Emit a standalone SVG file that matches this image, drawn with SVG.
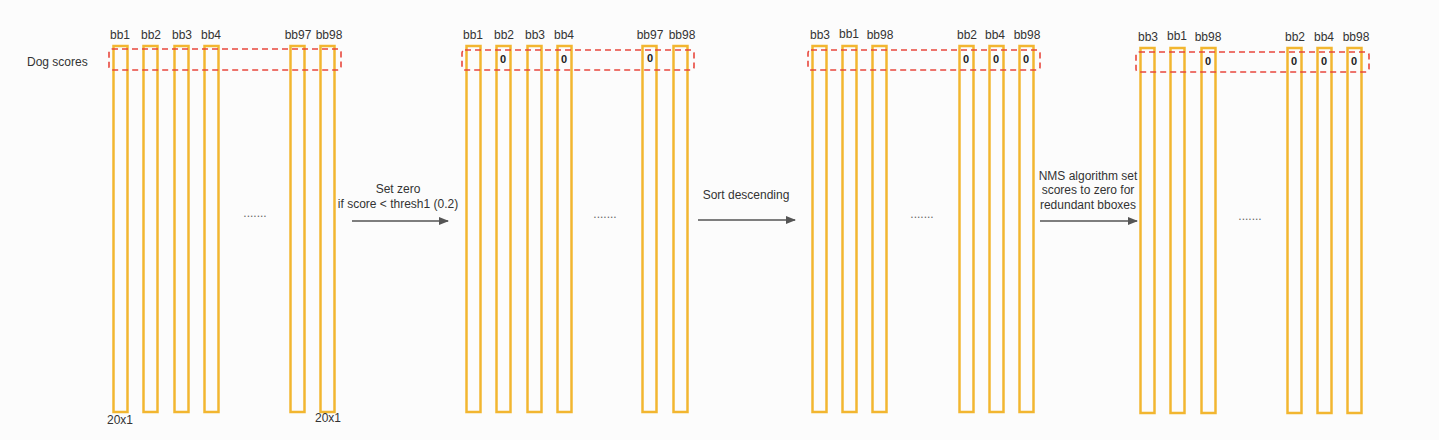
<svg xmlns="http://www.w3.org/2000/svg" width="1439" height="440" viewBox="0 0 1439 440">
<defs>
<style>
.bar{fill:none;stroke:#f2b630;stroke-width:2.5}
.sel{fill:none;stroke:#e8473c;stroke-width:1.6;stroke-dasharray:6,4}
.lbl{font-family:"Liberation Sans",Arial,sans-serif;font-size:12px;fill:#333;text-anchor:middle}
.zero{font-family:"Liberation Sans",Arial,sans-serif;font-size:11px;font-weight:bold;fill:#222;text-anchor:middle}
.txt{font-family:"Liberation Sans",Arial,sans-serif;font-size:12px;fill:#333}
.dots{font-family:"Liberation Sans",Arial,sans-serif;font-size:12px;fill:#666;text-anchor:middle}
.arr{stroke:#555;stroke-width:1.3;fill:none}
</style>
<marker id="ah" markerWidth="10" markerHeight="8" refX="9" refY="4" orient="auto" markerUnits="userSpaceOnUse">
<path d="M0,0 L10,4 L0,8 Z" fill="#555"/>
</marker>
</defs>
<rect width="1439" height="440" fill="#fcfcfc"/>
<text class="txt" x="27" y="66">Dog scores</text>

<g id="panel1">
<rect class="bar" x="113.5" y="46" width="14" height="366"/>
<rect class="bar" x="143.5" y="46" width="14" height="366"/>
<rect class="bar" x="174.5" y="46" width="14" height="366"/>
<rect class="bar" x="204.5" y="46" width="14" height="366"/>
<rect class="bar" x="290.5" y="46" width="14" height="366"/>
<rect class="bar" x="320.5" y="46" width="14" height="366"/>
<rect class="sel" x="109" y="49" width="232" height="21" rx="3"/>
<text class="lbl" x="120" y="39">bb1</text>
<text class="lbl" x="151" y="39">bb2</text>
<text class="lbl" x="182" y="39">bb3</text>
<text class="lbl" x="211" y="39">bb4</text>
<text class="lbl" x="298" y="39">bb97</text>
<text class="lbl" x="329" y="39">bb98</text>
<text class="dots" x="255" y="217">.......</text>
<text class="lbl" x="120" y="424">20x1</text>
<text class="lbl" x="328" y="422">20x1</text>
</g>

<g id="panel2">
<rect class="bar" x="466.5" y="46" width="14" height="366"/>
<rect class="bar" x="496.5" y="46" width="14" height="366"/>
<rect class="bar" x="527.5" y="46" width="14" height="366"/>
<rect class="bar" x="557.5" y="46" width="14" height="366"/>
<rect class="bar" x="642.5" y="46" width="14" height="366"/>
<rect class="bar" x="673.5" y="46" width="14" height="366"/>
<rect class="sel" x="462" y="50" width="232" height="20" rx="3"/>
<text class="lbl" x="473" y="39">bb1</text>
<text class="lbl" x="504" y="39">bb2</text>
<text class="lbl" x="535" y="39">bb3</text>
<text class="lbl" x="564" y="39">bb4</text>
<text class="lbl" x="650" y="39">bb97</text>
<text class="lbl" x="682" y="39">bb98</text>
<text class="zero" x="503" y="63">0</text>
<text class="zero" x="564" y="63">0</text>
<text class="zero" x="650" y="62">0</text>
<text class="dots" x="605" y="218">.......</text>
</g>

<g id="panel3">
<rect class="bar" x="812.5" y="46" width="14" height="366"/>
<rect class="bar" x="842.5" y="46" width="14" height="366"/>
<rect class="bar" x="872.5" y="46" width="14" height="366"/>
<rect class="bar" x="959.5" y="46" width="14" height="366"/>
<rect class="bar" x="989.5" y="46" width="14" height="366"/>
<rect class="bar" x="1019.5" y="46" width="14" height="366"/>
<rect class="sel" x="808" y="50" width="232" height="20" rx="3"/>
<text class="lbl" x="820" y="39">bb3</text>
<text class="lbl" x="849" y="38">bb1</text>
<text class="lbl" x="880" y="39">bb98</text>
<text class="lbl" x="967" y="39">bb2</text>
<text class="lbl" x="995" y="39">bb4</text>
<text class="lbl" x="1027" y="39">bb98</text>
<text class="zero" x="966" y="63">0</text>
<text class="zero" x="996" y="63">0</text>
<text class="zero" x="1026" y="63">0</text>
<text class="dots" x="922" y="218">.......</text>
</g>

<g id="panel4">
<rect class="bar" x="1140.5" y="48" width="14" height="365"/>
<rect class="bar" x="1170.5" y="48" width="14" height="365"/>
<rect class="bar" x="1201.5" y="48" width="14" height="365"/>
<rect class="bar" x="1287.5" y="48" width="14" height="365"/>
<rect class="bar" x="1317.5" y="48" width="14" height="365"/>
<rect class="bar" x="1347.5" y="48" width="14" height="365"/>
<rect class="sel" x="1136" y="52" width="233" height="20" rx="3"/>
<text class="lbl" x="1148" y="41">bb3</text>
<text class="lbl" x="1177" y="40">bb1</text>
<text class="lbl" x="1208" y="41">bb98</text>
<text class="lbl" x="1295" y="41">bb2</text>
<text class="lbl" x="1324" y="41">bb4</text>
<text class="lbl" x="1356" y="41">bb98</text>
<text class="zero" x="1208" y="65">0</text>
<text class="zero" x="1294" y="65">0</text>
<text class="zero" x="1324" y="65">0</text>
<text class="zero" x="1354" y="65">0</text>
<text class="dots" x="1250" y="220">.......</text>
</g>

<g id="connectors">
<line class="arr" x1="352" y1="221" x2="448" y2="221" marker-end="url(#ah)"/>
<text class="lbl" x="398" y="193">Set zero</text>
<text class="lbl" x="398" y="208">if score &lt; thresh1 (0.2)</text>
<line class="arr" x1="698" y1="220" x2="795" y2="220" marker-end="url(#ah)"/>
<text class="lbl" x="746" y="199">Sort descending</text>
<line class="arr" x1="1040" y1="221" x2="1137" y2="221" marker-end="url(#ah)"/>
<text class="lbl" x="1088" y="180">NMS algorithm set</text>
<text class="lbl" x="1088" y="194">scores to zero for</text>
<text class="lbl" x="1088" y="209">redundant bboxes</text>
</g>
</svg>
